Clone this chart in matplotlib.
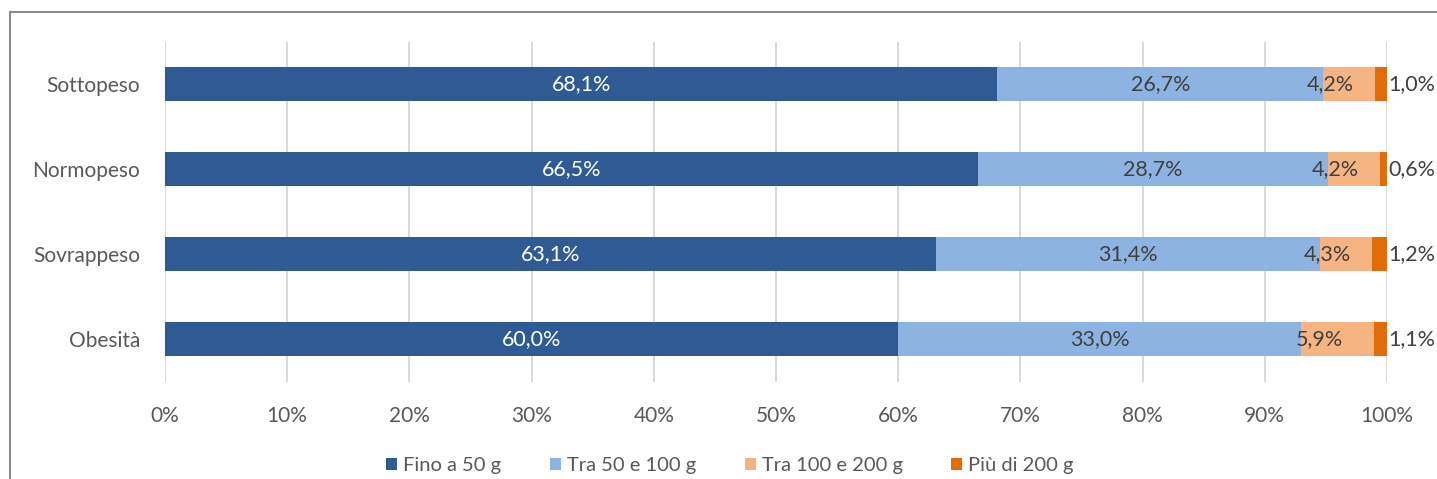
import matplotlib
matplotlib.use("Agg")
import matplotlib.pyplot as plt
from matplotlib.lines import Line2D
from matplotlib.patches import Patch
import numpy as np

categories = ["Sottopeso", "Normopeso", "Sovrappeso", "Obesità"]
series_names = ["Fino a 50 g", "Tra 50 e 100 g", "Tra 100 e 200 g", "Più di 200 g"]
fino50 = [68.1, 66.5, 63.1, 60.0]
tra50_100 = [26.7, 28.7, 31.4, 33.0]
tra100_200 = [4.2, 4.2, 4.3, 5.9]
piu200 = [1.0, 0.6, 1.2, 1.1]
xticks = [0, 10, 20, 30, 40, 50, 60, 70, 80, 90, 100]

colors = ["#305A93", "#8DB3E2", "#F6B483", "#E36C0A"]
label_colors = ["white", "#404040", "#404040", "#404040"]

plt.rcParams['font.family'] = ['Lato', 'DejaVu Sans']

fig = plt.figure(figsize=(14.37, 4.79), dpi=100)
ax = fig.add_axes([165/1437, 1-381.5/479, 1222/1437, 340/479])

y = np.arange(len(categories))[::-1]
data = [fino50, tra50_100, tra100_200, piu200]
left = np.zeros(len(categories))
for i, (vals, col) in enumerate(zip(data, colors)):
    vals = np.array(vals)
    ax.barh(y, vals, left=left, height=0.4, color=col, zorder=3)
    for yy, l, v in zip(y, left, vals):
        txt = f"{v:.1f}%".replace(".", ",")
        if i < 2:
            ax.text(l + v/2, yy, txt, ha='center', va='center', color=label_colors[i], fontsize=15.5, zorder=4)
        elif i == 2:
            ax.text(l + v/2 - 1.5, yy, txt, ha='center', va='center', color=label_colors[i], fontsize=15.5, zorder=4)
        else:
            ax.text(100.1, yy, txt, ha='left', va='center', color=label_colors[i], fontsize=15.5, zorder=4)
    left = left + vals

ax.set_xlim(0, 100)
ax.set_ylim(-0.5, 3.5)
ax.set_xticks(xticks)
ax.set_xticklabels([f"{t}%" for t in xticks])
ax.set_yticks(y)
ax.set_yticklabels(categories)
ax.tick_params(axis='both', length=0, labelsize=15, labelcolor="#595959")
ax.tick_params(axis='y', pad=18)
ax.tick_params(axis='x', pad=18)
ax.grid(axis='x', color="#D9D9D9", linewidth=1.4, zorder=0)
for s in ax.spines.values():
    s.set_visible(False)

handles = [Patch(facecolor=c, edgecolor='none') for c in colors]
fig.legend(handles, series_names, loc='center', bbox_to_anchor=(0.508, 1-466/479), ncol=4,
           frameon=False, fontsize=14.5, labelcolor="#595959", handlelength=0.55, handleheight=0.55,
           handletextpad=0.3, columnspacing=2.4)

# chart outer frame (left and top edges)
fig.add_artist(Line2D([10/1437, 10/1437], [0, 1-12/479], color="#8C8C8C", linewidth=1.5, transform=fig.transFigure))
fig.add_artist(Line2D([10/1437, 1], [1-12/479, 1-12/479], color="#8C8C8C", linewidth=1.5, transform=fig.transFigure))

fig.savefig("out.png", dpi=100)
